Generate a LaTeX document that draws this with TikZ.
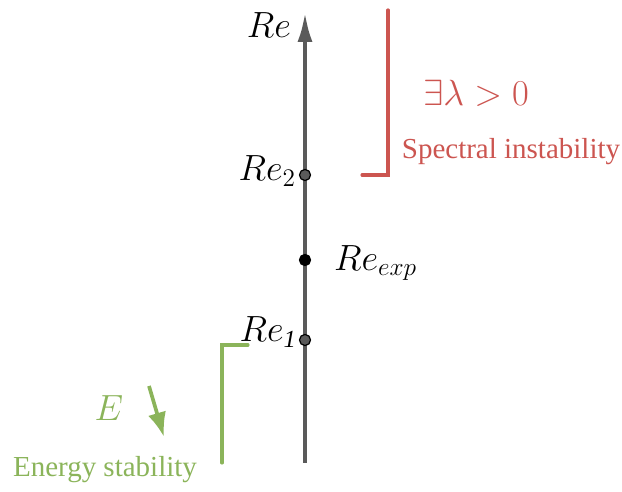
\documentclass[tikz,border=0pt]{standalone}
\usepackage{fontspec}
\setmainfont{Liberation Serif}
\usepackage{xcolor}
\usepackage{tikz}
\usetikzlibrary{arrows.meta,positioning}
\definecolor{axisgray}{HTML}{5A5A5A}
\definecolor{specred}{HTML}{CC5550}
\definecolor{energygreen}{HTML}{8BB45A}

\begin{document}
\begin{tikzpicture}[x=0.02cm,y=-0.02cm,>=Latex,font=\fontsize{16.5}{20}\selectfont]
  \useasboundingbox (0,0) rectangle (622,492);
  \tikzset{
    repoint/.style={circle,draw=black,fill=#1,inner sep=0pt,minimum size=6.3pt,line width=0.7pt},
    bracket/.style={line width=1.8pt,line cap=round},
    mathlab/.style={inner sep=1pt,font=\fontsize{20}{24}\selectfont}
  }
  % Reynolds axis
  \coordinate (base) at (305,463);
  \coordinate (tip) at (305,12);
  \draw[axisgray,line width=2.4pt,-{Latex[length=17pt,width=8.5pt]}] (base) -- (tip);
  \node[mathlab,anchor=east] (relabel) at (293,25) {$Re$};
  % points on the axis
  \node[repoint=axisgray] (re2) at (305,175) {};
  \node[repoint=black] (reexp) at (305,260) {};
  \node[repoint=axisgray] (re1) at (305,340) {};
  \node[mathlab,anchor=east] (re2lab) at (298,171) {$Re_2$};
  \node[mathlab,anchor=west] (reexplab) at (332,263) {$Re_{exp}$};
  \node[mathlab,anchor=east] (re1lab) at (299,332) {$Re_{\mathit{1}}$};
  % spectral instability
  \coordinate (rtop) at (388,10);
  \coordinate (rcorner) at (388,175);
  \coordinate (rend) at (362,175);
  \draw[specred,bracket] (rtop) -- (rcorner) -- (rend);
  \node[specred,mathlab] (lambda) at (476,93) {$\exists\lambda>0$};
  \node[specred] (spec) at (511,152) {Spectral instability};
  % energy stability
  \coordinate (gbot) at (222,463);
  \coordinate (gcorner) at (222,345);
  \coordinate (gend) at (248,345);
  \draw[energygreen,bracket] (gbot) -- (gcorner) -- (gend);
  \node[energygreen,mathlab] (elab) at (109,408) {$E$};
  \coordinate (astart) at (149,386);
  \coordinate (aend) at (164,437);
  \draw[energygreen,line width=2.1pt,-{Latex[length=14pt,width=10.5pt]}] (astart) -- (aend);
  \node[energygreen] (energy) at (105,470) {Energy stability};
\end{tikzpicture}
\end{document}
